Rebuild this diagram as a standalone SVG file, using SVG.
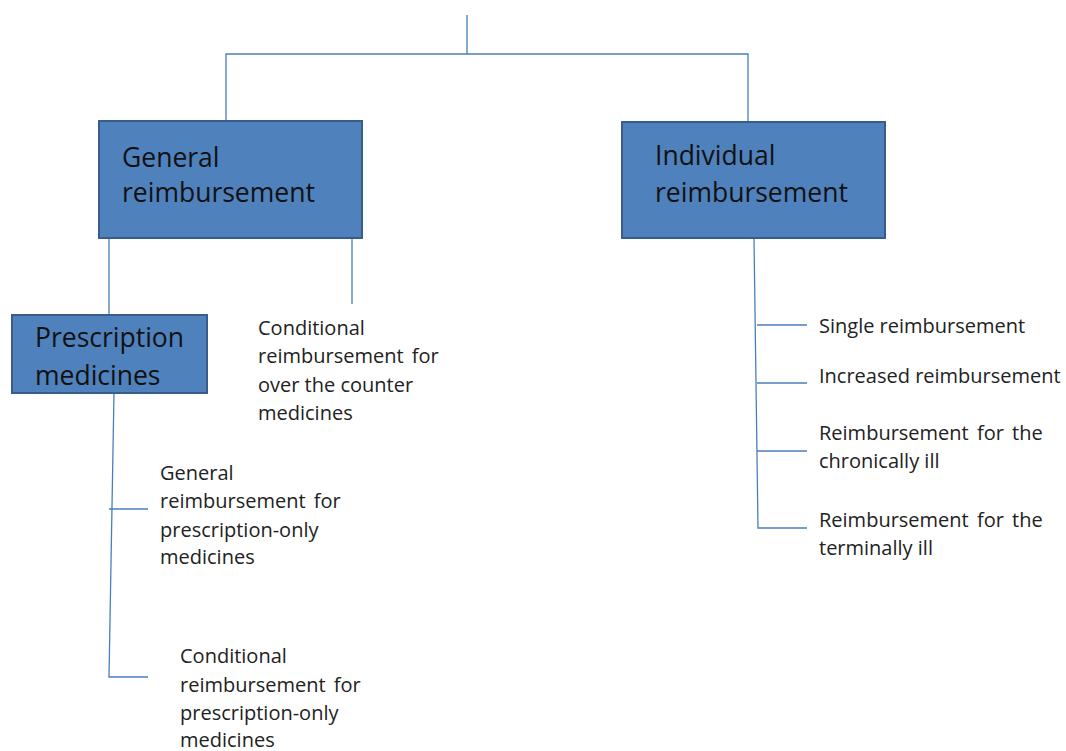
<svg xmlns="http://www.w3.org/2000/svg" width="1066" height="751" viewBox="0 0 1066 751">
<style>
.box{fill:#4F81BD;stroke:#385D8A;stroke-width:2}
.bt{font-family:"Open Sans","DejaVu Sans",sans-serif;fill:#111;}
.lt{font-family:"Open Sans","DejaVu Sans",sans-serif;font-size:20px;fill:#222;}
.ln{stroke:#4A7EBB;stroke-width:1.3;fill:none}
</style>
<rect width="1066" height="751" fill="#fff"/>
<g id="connectors">
<path class="ln" d="M467,15 V54 M226,121 V54 H748 V122"/>
<path class="ln" d="M109,238 V316 M352,238 V304"/>
<path class="ln" d="M114,393 L109,677 H148 M109,509 H148"/>
<path class="ln" d="M754,238 L758,528 H807 M757,325 H807 M757,383 H807 M757,451 H807"/>
</g>
<g id="general">
<rect class="box" x="99" y="121" width="263" height="117"/>
<text class="bt" font-size="26.5" x="122" y="167">General</text>
<text class="bt" font-size="26.5" x="122" y="202">reimbursement</text>
</g>
<g id="individual">
<rect class="box" x="622" y="122" width="263" height="116"/>
<text class="bt" font-size="26.5" x="655" y="165">Individual</text>
<text class="bt" font-size="26.5" x="655" y="202">reimbursement</text>
</g>
<g id="prescription">
<rect class="box" x="12" y="315" width="195" height="78"/>
<text class="bt" font-size="26.5" x="35" y="347">Prescription</text>
<text class="bt" font-size="26.5" x="35" y="385">medicines</text>
</g>
<g id="otc">
<text class="lt" x="258" y="335">Conditional</text>
<text class="lt" x="258" y="363" word-spacing="3">reimbursement for</text>
<text class="lt" x="258" y="392">over the counter</text>
<text class="lt" x="258" y="420">medicines</text>
</g>
<g id="general-rx">
<text class="lt" x="160" y="480">General</text>
<text class="lt" x="160" y="508" word-spacing="3">reimbursement for</text>
<text class="lt" x="160" y="537">prescription-only</text>
<text class="lt" x="160" y="564">medicines</text>
</g>
<g id="conditional-rx">
<text class="lt" x="180" y="663">Conditional</text>
<text class="lt" x="180" y="692" word-spacing="3">reimbursement for</text>
<text class="lt" x="180" y="720">prescription-only</text>
<text class="lt" x="180" y="747">medicines</text>
</g>
<g id="single"><text class="lt" x="819" y="333">Single reimbursement</text></g>
<g id="increased"><text class="lt" x="819" y="383">Increased reimbursement</text></g>
<g id="chronic">
<text class="lt" x="819" y="440" word-spacing="3">Reimbursement for the</text>
<text class="lt" x="819" y="468">chronically ill</text>
</g>
<g id="terminal">
<text class="lt" x="819" y="527" word-spacing="3">Reimbursement for the</text>
<text class="lt" x="819" y="555">terminally ill</text>
</g>
</svg>
